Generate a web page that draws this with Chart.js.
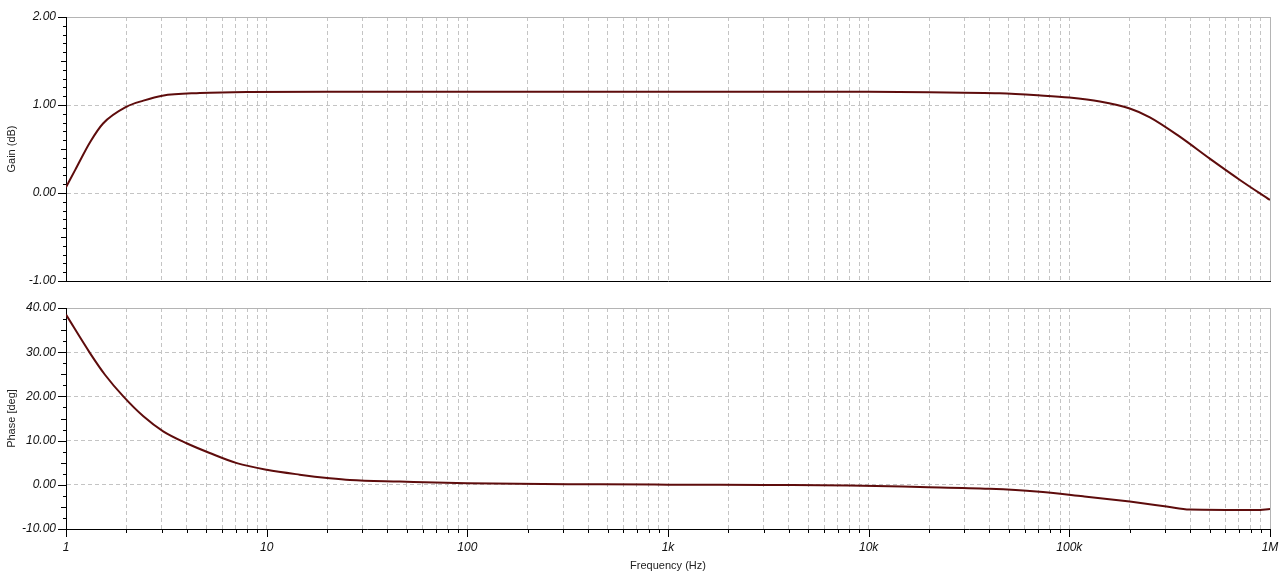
<!DOCTYPE html>
<html>
<head>
<meta charset="utf-8">
<script src="https://cdn.jsdelivr.net/npm/chart.js@4/dist/chart.umd.min.js"></script>
<style>
  body { margin: 0; background: #fff; }
  #gainChart, #phaseChart { position: absolute; left: 0; }
  #gainChart { top: 0; }
  #phaseChart { top: 296px; }
</style>
</head>
<body>
<canvas id="gainChart" width="1280" height="296"></canvas>
<canvas id="phaseChart" width="1280" height="288"></canvas>
<script>
// Bode plot data
const gainFreq = [1, 1.11, 1.32, 1.53, 2, 2.43, 3.02, 4.65, 7.95, 20, 100, 1000, 10000, 20000, 45000, 70000, 100000, 142000, 200000, 252000, 355000, 501000, 708000, 1000000];
const gainDb = [0.065, 0.26, 0.58, 0.79, 0.98, 1.05, 1.106, 1.136, 1.148, 1.15, 1.15, 1.15, 1.15, 1.145, 1.133, 1.11, 1.085, 1.04, 0.96, 0.86, 0.64, 0.39, 0.148, -0.08];

const phaseFreq = [1, 1.317, 1.564, 1.93, 2.43, 3.05, 3.99, 5.2, 7.1, 10, 14.6, 20.6, 26, 46, 100, 460, 1000, 3000, 8000, 18000, 40000, 68600, 117000, 200000, 305000, 398000, 855000, 1000000];
const phaseDeg = [38.5, 29.8, 24.9, 20.0, 15.5, 12.1, 9.4, 7.2, 4.9, 3.4, 2.3, 1.5, 1.1, 0.75, 0.35, 0.1, 0.03, -0.05, -0.15, -0.5, -0.9, -1.5, -2.6, -3.8, -4.9, -5.6, -5.7, -5.5];

const freqLabels = { 1: "1", 10: "10", 100: "100", 1000: "1k", 10000: "10k", 100000: "100k", 1000000: "1M" };

const lineColor = "#5e0c0c";
const gridColor = "#c4c4c4";
const frameColor = "#b4b4b4";
const labelFont = { family: "Arial, 'Liberation Sans'", size: 12, style: "italic" };
const titleFont = { family: "Arial, 'Liberation Sans'", size: 11 };

// 1,2,..9 per decade
function logTicks() {
  const ticks = [];
  for (let e = 0; e < 6; e++) {
    for (let m = 1; m < 10; m++) ticks.push({ value: m * Math.pow(10, e) });
  }
  ticks.push({ value: 1000000 });
  return ticks;
}

// small tick marks on the axes, positions from the chart's scales
const axisTicks = {
  id: "axisTicks",
  afterDraw(chart, args, opts) {
    const { ctx, chartArea, scales } = chart;
    ctx.save();
    ctx.strokeStyle = "#000";
    ctx.lineWidth = 1;
    ctx.beginPath();
    const steps = Math.round((opts.yMax - opts.yMin) / opts.yStep);
    for (let i = 0; i <= steps; i++) {
      const v = opts.yMin + i * opts.yStep;
      const k = i % opts.perMajor;
      let len = 3;
      if (k === 0) len = 8;
      else if (opts.perMajor % 2 === 0 && k === opts.perMajor / 2) len = 5;
      const y = Math.round(scales.y.getPixelForValue(v)) + 0.5;
      ctx.moveTo(chartArea.left - len, y);
      ctx.lineTo(chartArea.left, y);
    }
    if (opts.xTicks) {
      logTicks().forEach(t => {
        const major = freqLabels[t.value] !== undefined;
        const x = Math.round(scales.x.getPixelForValue(t.value)) + 0.5;
        ctx.moveTo(x, chartArea.bottom);
        ctx.lineTo(x, chartArea.bottom + (major ? 8 : 4));
      });
    }
    ctx.stroke();
    ctx.restore();
  }
};

function xScale(showLabels) {
  return {
    type: "logarithmic",
    min: 1,
    max: 1000000,
    afterBuildTicks: s => { s.ticks = logTicks(); },
    afterFit: s => {
      s.height = showLabels ? 55 : 0;
      s.paddingLeft = 0;
      s.paddingRight = 0;
    },
    border: {
      color: "#000",
      width: 1,
      dash: c => (c.tick && c.tick.value === 1000000 ? [] : [4, 3]),
    },
    grid: {
      drawTicks: false,
      color: c => {
        if (!c.tick) return gridColor;
        if (c.tick.value === 1) return "rgba(0,0,0,0)";
        if (c.tick.value === 1000000) return frameColor;
        return gridColor;
      },
    },
    ticks: {
      display: showLabels,
      autoSkip: false,
      maxRotation: 0,
      padding: 11,
      color: "#111",
      font: labelFont,
      callback: v => freqLabels[v] || "",
    },
    title: {
      display: showLabels,
      text: "Frequency (Hz)",
      color: "#222",
      font: titleFont,
      padding: { top: 0, bottom: 11 },
    },
  };
}

function yScale(min, max, step, title) {
  return {
    min: min,
    max: max,
    afterFit: s => {
      s.width = 66;
      s.paddingTop = 0;
      s.paddingBottom = 0;
    },
    border: {
      color: "#000",
      width: 1,
      dash: c => (c.tick && c.tick.value === max ? [] : [4, 3]),
    },
    grid: {
      drawTicks: false,
      color: c => {
        if (!c.tick) return gridColor;
        if (c.tick.value === min) return "rgba(0,0,0,0)";
        if (c.tick.value === max) return frameColor;
        return gridColor;
      },
    },
    ticks: {
      stepSize: step,
      padding: 10,
      color: "#111",
      font: labelFont,
      callback: v => Number(v).toFixed(2),
    },
    title: {
      display: true,
      text: title,
      color: "#222",
      font: titleFont,
      padding: { top: 5, bottom: 0 },
    },
  };
}

// Gain (dB)
const gainCtx = document.getElementById("gainChart");
new Chart(gainCtx, {
  type: "line",
  data: {
    datasets: [
      {
        label: "Gain",
        data: gainFreq.map((f, i) => ({ x: f, y: gainDb[i] })),
        borderColor: lineColor,
        borderWidth: 2,
        pointRadius: 0,
        cubicInterpolationMode: "monotone",
      },
    ],
  },
  options: {
    responsive: false,
    animation: false,
    layout: { padding: { top: 17, right: 10, bottom: 15, left: 0 } },
    plugins: {
      legend: { display: false },
      tooltip: { enabled: false },
      axisTicks: { yMin: -1, yMax: 2, yStep: 0.1, perMajor: 10, xTicks: false },
    },
    scales: {
      x: xScale(false),
      y: yScale(-1, 2, 1, "Gain (dB)"),
    },
  },
  plugins: [axisTicks],
});

// Phase [deg]
const phaseCtx = document.getElementById("phaseChart");
new Chart(phaseCtx, {
  type: "line",
  data: {
    datasets: [
      {
        label: "Phase",
        data: phaseFreq.map((f, i) => ({ x: f, y: phaseDeg[i] })),
        borderColor: lineColor,
        borderWidth: 2,
        pointRadius: 0,
        cubicInterpolationMode: "monotone",
      },
    ],
  },
  options: {
    responsive: false,
    animation: false,
    layout: { padding: { top: 12, right: 10, bottom: 0, left: 0 } },
    plugins: {
      legend: { display: false },
      tooltip: { enabled: false },
      axisTicks: { yMin: -10, yMax: 40, yStep: 2.5, perMajor: 4, xTicks: true },
    },
    scales: {
      x: xScale(true),
      y: yScale(-10, 40, 10, "Phase [deg]"),
    },
  },
  plugins: [axisTicks],
});
</script>
</body>
</html>
